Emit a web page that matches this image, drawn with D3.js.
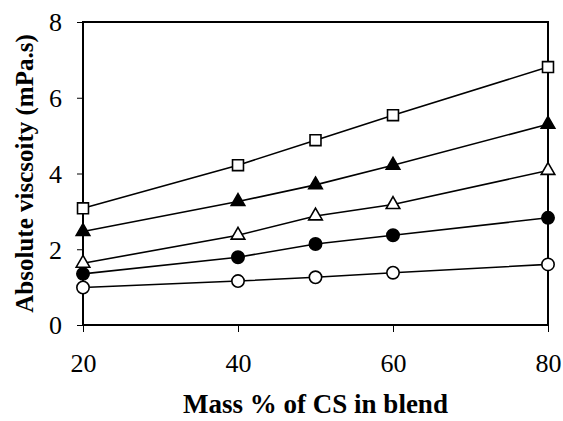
<!DOCTYPE html>
<html>
<head>
<meta charset="utf-8">
<script src="https://cdn.jsdelivr.net/npm/d3@7"></script>
<style>
  html, body { margin: 0; padding: 0; background: #fff; overflow: hidden; }
  svg { display: block; }
</style>
</head>
<body>
<svg id="chart" width="563" height="421"></svg>
<script>
// ===== DATA =====
const massPct = [20, 40, 50, 60, 80];
const openSquare = [3.08, 4.22, 4.88, 5.54, 6.81];
const filledTriangle = [2.47, 3.26, 3.70, 4.22, 5.30];
const openTriangle = [1.63, 2.37, 2.88, 3.18, 4.08];
const filledCircle = [1.35, 1.79, 2.14, 2.37, 2.83];
const openCircle = [0.99, 1.16, 1.26, 1.38, 1.60];
const xTicks = [20, 40, 60, 80];
const yTicks = [0, 2, 4, 6, 8];

const seriesList = [
    { values: openSquare, symbol: d3.symbolSquare, size: 120, fill: '#fff' },
    { values: filledTriangle, symbol: d3.symbolTriangle, size: 80, fill: '#000' },
    { values: openTriangle, symbol: d3.symbolTriangle, size: 80, fill: '#fff' },
    { values: filledCircle, symbol: d3.symbolCircle, size: 120, fill: '#000' },
    { values: openCircle, symbol: d3.symbolCircle, size: 120, fill: '#fff' }
];

// ===== LAYOUT =====
const svg = d3.select('#chart');
const margin = { top: 22, right: 15, bottom: 96, left: 83 };
const width = 563, height = 421;
const innerWidth = width - margin.left - margin.right;
const innerHeight = height - margin.top - margin.bottom;
const font = '"Liberation Serif", "Times New Roman", serif';

const g = svg.append('g')
    .attr('transform', `translate(${margin.left},${margin.top})`);

const x = d3.scaleLinear().domain([20, 80]).range([0, innerWidth]);
const y = d3.scaleLinear().domain([0, 8]).range([innerHeight, 0]);

// axes
const xAxisG = g.append('g')
    .attr('transform', `translate(0,${innerHeight})`)
    .call(d3.axisBottom(x).tickValues(xTicks).tickSize(7).tickPadding(22));

const yAxisG = g.append('g')
    .call(d3.axisLeft(y).tickValues(yTicks).tickSize(6).tickPadding(15));

[xAxisG, yAxisG].forEach(ax => {
    ax.select('.domain').remove();
    ax.selectAll('line').attr('stroke', '#000').attr('stroke-width', 1);
    ax.selectAll('text')
        .attr('fill', '#000')
        .style('font-family', font)
        .style('font-size', '26px');
});
yAxisG.selectAll('text').attr('dy', '0.34em');

// frame
g.append('rect')
    .attr('x', 0)
    .attr('y', 0)
    .attr('width', innerWidth)
    .attr('height', innerHeight)
    .attr('fill', 'none')
    .attr('stroke', '#000')
    .attr('stroke-width', 2);

// series
const line = d3.line()
    .x((d, i) => x(massPct[i]))
    .y(d => y(d));

seriesList.forEach(s => {
    g.append('path')
        .datum(s.values)
        .attr('d', line)
        .attr('fill', 'none')
        .attr('stroke', '#000')
        .attr('stroke-width', 1.6);
});

seriesList.forEach(s => {
    g.selectAll(null)
        .data(s.values)
        .join('path')
        .attr('transform', (d, i) => `translate(${x(massPct[i])},${y(d)})`)
        .attr('d', d3.symbol().type(s.symbol).size(s.size))
        .attr('fill', s.fill)
        .attr('stroke', '#000')
        .attr('stroke-width', 1.6);
});

// axis titles
svg.append('text')
    .attr('x', margin.left + innerWidth / 2)
    .attr('y', 413)
    .attr('text-anchor', 'middle')
    .style('font-family', font)
    .style('font-size', '27px')
    .style('font-weight', 'bold')
    .text('Mass % of CS in blend');

svg.append('text')
    .attr('transform', `translate(33,${margin.top + innerHeight / 2}) rotate(-90)`)
    .attr('text-anchor', 'middle')
    .style('font-family', font)
    .style('font-size', '25px')
    .style('font-weight', 'bold')
    .text('Absolute viscsoity (mPa.s)');
</script>
</body>
</html>
